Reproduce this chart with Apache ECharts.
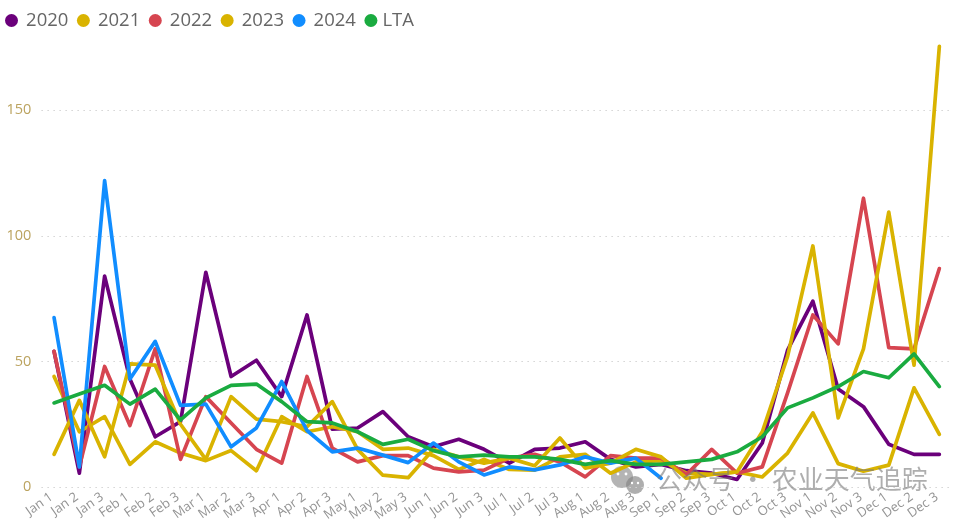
<!DOCTYPE html>
<html>
<head>
<meta charset="utf-8">
<style>
  html, body { margin: 0; padding: 0; background: #fff; }
  #chart { width: 960px; height: 519px; }
</style>
<script src="https://cdn.jsdelivr.net/npm/echarts@6/dist/echarts.min.js"></script>
</head>
<body>
<div id="chart"></div>
<script>
const categories = ['Jan 1','Jan 2','Jan 3','Feb 1','Feb 2','Feb 3','Mar 1','Mar 2','Mar 3','Apr 1','Apr 2','Apr 3',
  'May 1','May 2','May 3','Jun 1','Jun 2','Jun 3','Jul 1','Jul 2','Jul 3','Aug 1','Aug 2','Aug 3',
  'Sep 1','Sep 2','Sep 3','Oct 1','Oct 2','Oct 3','Nov 1','Nov 2','Nov 3','Dec 1','Dec 2','Dec 3']

const y2020 = [54,5.5,84,43,20,26,85.5,44,50.5,36,68.5,23,23.5,30,20,16,19,15,9.5,15,15.5,18,11,8,9,6.5,5.5,3,17.5,54.5,74,39,32,17,13,13]
const y2021 = [44,22,28,9,18,13.5,10.5,14.5,6.5,28,22,24,22,15,15.5,12.5,7,11,7,6.7,12,13,5.5,10,10.5,5.5,5,6,4,13.5,29.5,9.3,6.3,8.7,39.5,21]
const y2022 = [54,8,48,24.5,55,11,36,25.5,15,9.5,44,15.5,10,12.5,12.5,7.5,6,6.7,11.5,13,10,4,12.5,11.5,11.5,5,15,5.5,8,37.5,68.5,57,115,55.5,55,87]
const y2023 = [13,34.5,12,49,48.5,25,11,36,27,26,24,34,15,4.7,3.7,15,12,9.5,11.5,8.5,19.5,7.5,9.5,15,12,3.5,5,6,22,52,96,27.5,55,109.5,48.5,175.5]
const y2024 = [67.5,8,122,43,58,32.5,33,16,23.5,42,22.5,14,15.5,12.7,9.7,17.5,10,4.8,8,6.8,8.8,12,9.5,11.5,3.5]
const yLta = [33.5,37,40.5,33,39,26.7,35.5,40.5,41,34,26,25.5,22,17,19,14.5,12,12.7,12,12,11,9,10.5,9,9,10,11,14,20,31.5,35.5,40,46,43.5,53,40]

const seriesNames = ['2020','2021','2022','2023','2024','LTA']
const seriesData = [y2020, y2021, y2022, y2023, y2024, yLta]
const colors = ['#6B007B','#D9B300','#D64550','#D9B300','#118DFF','#1AAB40']

const chart = echarts.init(document.getElementById('chart'), null, { renderer: 'canvas' })
chart.setOption({
  animation: false,
  color: colors,
  textStyle: { fontFamily: '"Open Sans", sans-serif' },
  legend: {
    left: 0,
    top: 6,
    icon: 'circle',
    itemWidth: 13,
    itemHeight: 13,
    itemGap: 8.5,
    // the reference keeps a wider gap after the dot, except on LTA
    formatter: name => (name === 'LTA' ? name : '\u2009' + name),
    textStyle: { color: '#666666', fontSize: 18.5, fontFamily: '"Open Sans", sans-serif' },
    data: seriesNames
  },
  grid: { left: 41.4, right: 8, top: 35, bottom: 32, outerBoundsMode: 'none' },
  xAxis: {
    type: 'category',
    data: categories,
    axisLine: { show: false },
    axisTick: { show: false },
    axisLabel: { interval: 0, rotate: 35, color: '#949494', fontSize: 13, margin: 7, padding: [0, 3, 0, 0] }
  },
  yAxis: {
    type: 'value',
    min: 0,
    max: 180,
    interval: 50,
    axisLine: { show: false },
    axisTick: { show: false },
    axisLabel: { color: '#BBA35F', fontSize: 14.5, margin: 10, showMaxLabel: false, padding: [2, 0, 0, 0] },
    splitLine: { showMaxLine: false, lineStyle: { color: '#d4d4d4', type: [1.5, 4.5], width: 1 } }
  },
  series: seriesNames.map((name, i) => ({
    name,
    type: 'line',
    data: seriesData[i],
    showSymbol: false,
    symbol: 'circle',
    lineStyle: { width: 3.7, cap: 'round', join: 'round' }
  })),
  graphic: [
    { type: 'group', left: 611, top: 466, z: 50, children: [
      { type: 'circle', shape: { cx: 11, cy: 11, r: 11 }, style: { fill: 'rgba(130,130,130,0.6)' } },
      { type: 'circle', shape: { cx: 24, cy: 19, r: 9 }, style: { fill: 'rgba(130,130,130,0.65)' } },
      { type: 'circle', shape: { cx: 7, cy: 8, r: 1.4 }, style: { fill: '#ffffff' } },
      { type: 'circle', shape: { cx: 15, cy: 8, r: 1.4 }, style: { fill: '#ffffff' } },
      { type: 'circle', shape: { cx: 21, cy: 17, r: 1.2 }, style: { fill: '#ffffff' } },
      { type: 'circle', shape: { cx: 27, cy: 17, r: 1.2 }, style: { fill: '#ffffff' } }
    ] },
    { type: 'text', left: 656, top: 466, z: 50, style: {
      text: '公众号 · 农业天气追踪',
      fill: 'rgba(120,120,120,0.6)',
      font: '26px "Noto Sans CJK SC"'
    } }
  ]
})
</script>
</body>
</html>
